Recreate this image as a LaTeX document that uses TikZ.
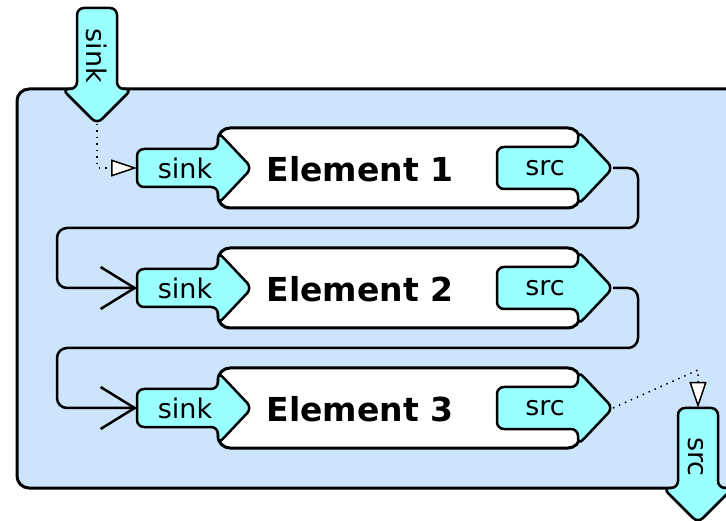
\documentclass[tikz,border=0pt]{standalone}
\usepackage{fontspec}
\setmainfont{DejaVu Sans}
\usetikzlibrary{arrows.meta}
\definecolor{binblue}{RGB}{204,228,252}
\definecolor{padcyan}{RGB}{153,255,255}

\newcommand{\elementbox}[3]{\draw[elem] (218,#2-40) rectangle (580,#2+40);
        \node[elemlabel] (#1) at (360,#2+1) {#3};
    }
\newcommand{\sinkpad}[2]{\draw[pad] (218,#2-19) -- (137,#2-19) -- (137,#2+19) -- (218,#2+19) -- (218,#2+36) -- (252,#2) -- (218,#2-36) -- cycle;
        \node[padlabel] (#1) at (185,#2) {sink};
        \coordinate (#1in) at (137,#2);
    }
\newcommand{\srcpad}[2]{\draw[pad] (578,#2-21) -- (497,#2-21) -- (497,#2+21) -- (578,#2+21) -- (578,#2+37) -- (613,#2) -- (578,#2-37) -- cycle;
        \node[padlabel] (#1) at (545,#2) {src};
        \coordinate (#1tip) at (613,#2);
    }

\begin{document}
\begin{tikzpicture}
                [
                x=1pt, y=-1pt,
                bin/.style={draw=black, line width=3pt, fill=binblue, rounded corners=12pt},
                elem/.style={draw=black, line width=3pt, fill=white, rounded corners=12pt},
                pad/.style={draw=black, line width=2.5pt, fill=padcyan, rounded corners=7pt, line join=round},
                padlabel/.style={inner sep=0pt, font=\fontsize{27}{30}\selectfont},
                elemlabel/.style={inner sep=0pt, font=\bfseries\fontsize{33}{36}\selectfont},
                link/.style={draw=black, line width=2.5pt, rounded corners=10pt, -{Straight Barb[length=34pt, width=42pt]}},
                dotlink/.style={draw=black, line width=1.5pt, dash pattern=on 1.5pt off 5pt, -{Triangle[open, fill=white, length=26pt, width=17pt, line width=1.5pt]}},
                ]
                \path[use as bounding box, clip] (0,0) rectangle (726,521);
                % the bin and its own pads
                \draw[bin] (17,89) rectangle (770,488);
                \draw[pad] (77,89) -- (77,8) -- (117,8) -- (117,89) -- (132,89) -- (97,124) -- (62,89) -- cycle;
                \node[padlabel, rotate=-90] (binsink) at (97,56) {sink};
                \coordinate (binsinktip) at (97,124);
                \draw[pad] (678,488) -- (678,408) -- (718,408) -- (718,488) -- (733,488) -- (698,523) -- (663,488) -- cycle;
                \node[padlabel, rotate=-90] (binsrc) at (696,457) {src};
                \coordinate (binsrcin) at (698,408);
                % elements
                \elementbox{elem1}{168}{Element 1}	\sinkpad{sinka}{168}	\srcpad{srca}{168}
                \elementbox{elem2}{288}{Element 2}	\sinkpad{sinkb}{288}	\srcpad{srcb}{288}
                \elementbox{elem3}{408}{Element 3}	\sinkpad{sinkc}{408}	\srcpad{srcc}{408}
                % links
                \draw[link] (srcatip) -- ++(25,0) |- ++(-581,60) |- (sinkbin);
                \draw[link] (srcbtip) -- ++(25,0) |- ++(-581,60) |- (sinkcin);
                \draw[dotlink] (binsinktip) |- (sinkain);
                \draw[dotlink] (srcctip) -- ++(85,-38) -- (binsrcin);
            \end{tikzpicture}
\end{document}
